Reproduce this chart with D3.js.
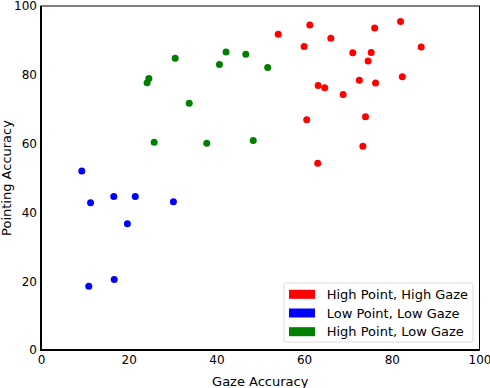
<!DOCTYPE html>
<html>
<head>
<meta charset="utf-8">
<script src="https://d3js.org/d3.v7.min.js"></script>
<style>
  body { margin: 0; background: #fff; }
  svg text { font-family: "DejaVu Sans", sans-serif; fill: #000; }
</style>
</head>
<body>
<div id="chart"></div>
<script>
var width = 490, height = 388;
var margin = {top: 6, right: 10.5, bottom: 38, left: 41};

var xTicks = [0, 20, 40, 60, 80, 100];
var yTicks = [0, 20, 40, 60, 80, 100];

var seriesNames = ["High Point, High Gaze", "Low Point, Low Gaze", "High Point, Low Gaze"];
var seriesColors = ["#ff0000", "#0000ff", "#008000"];

// High Point, High Gaze
var redX = [54.1, 61.3, 60.0, 66.1, 76.1, 82.0, 86.7, 71.1, 75.3, 74.6, 63.2, 64.7, 68.9, 72.6, 76.3, 82.4, 60.6, 74.0, 73.4, 63.1];
var redY = [91.8, 94.5, 88.2, 90.6, 93.6, 95.5, 88.1, 86.4, 86.5, 84.0, 76.9, 76.2, 74.3, 78.4, 77.6, 79.4, 66.9, 67.8, 59.2, 54.3];
// Low Point, Low Gaze
var blueX = [9.3, 11.3, 16.6, 21.5, 30.2, 19.7, 16.7, 10.9];
var blueY = [52.0, 42.8, 44.6, 44.6, 43.1, 36.7, 20.5, 18.5];
// High Point, Low Gaze
var greenX = [30.6, 24.2, 24.6, 33.8, 25.8, 37.8, 40.7, 42.2, 46.7, 51.7, 48.4];
var greenY = [84.8, 77.7, 78.9, 71.7, 60.4, 60.1, 83.0, 86.6, 86.0, 82.1, 60.9];

var groups = [
  {xs: redX, ys: redY},
  {xs: blueX, ys: blueY},
  {xs: greenX, ys: greenY}
];

var svg = d3.select("#chart").append("svg")
    .attr("width", width)
    .attr("height", height);

var x = d3.scaleLinear().domain([0, 100]).range([margin.left, width - margin.right]);
var y = d3.scaleLinear().domain([0, 100]).range([height - margin.bottom, margin.top]);

// points
groups.forEach(function(g, i) {
  var pts = g.xs.map(function(v, j) { return [v, g.ys[j]]; });
  svg.append("g").selectAll("circle")
      .data(pts)
    .enter().append("circle")
      .attr("cx", function(d) { return x(d[0]); })
      .attr("cy", function(d) { return y(d[1]); })
      .attr("r", 3.5)
      .style("fill", seriesColors[i]);
});

// frame
svg.append("rect")
    .attr("x", x(0)).attr("y", y(100))
    .attr("width", x(100) - x(0)).attr("height", y(0) - y(100))
    .style("fill", "none").style("stroke", "#000").style("stroke-width", 1);
svg.append("line")
    .attr("x1", x(0)).attr("x2", x(0)).attr("y1", y(100)).attr("y2", y(0) + 1)
    .style("stroke", "#000").style("stroke-width", 2);
svg.append("line")
    .attr("x1", x(0) - 1).attr("x2", x(100)).attr("y1", y(0)).attr("y2", y(0))
    .style("stroke", "#000").style("stroke-width", 2);

// axes (no tick marks)
var xAxis = svg.append("g")
    .attr("transform", "translate(0," + y(0) + ")")
    .call(d3.axisBottom(x).tickValues(xTicks).tickSize(0).tickPadding(5));
var yAxis = svg.append("g")
    .attr("transform", "translate(" + x(0) + ",0)")
    .call(d3.axisLeft(y).tickValues(yTicks).tickSize(0).tickPadding(4));
[xAxis, yAxis].forEach(function(a) {
  a.select(".domain").remove();
  a.selectAll("text").style("font-size", "12px").style("font-family", "DejaVu Sans");
});

svg.append("text")
    .attr("x", (x(0) + x(100)) / 2)
    .attr("y", 386)
    .attr("text-anchor", "middle")
    .style("font-size", "13px")
    .text("Gaze Accuracy");

svg.append("text")
    .attr("transform", "translate(6," + ((y(0) + y(100)) / 2) + ") rotate(-90)")
    .attr("text-anchor", "middle")
    .attr("dy", "0.35em")
    .style("font-size", "13px")
    .text("Pointing Accuracy");

// legend
var legend = svg.append("g").attr("transform", "translate(284,283)");
legend.append("rect")
    .attr("width", 189).attr("height", 59)
    .attr("rx", 2)
    .style("fill", "#fff")
    .style("stroke", "#ddd")
    .style("stroke-width", 1);
seriesNames.forEach(function(name, i) {
  var row = legend.append("g").attr("transform", "translate(0," + (11.3 + i * 18.7) + ")");
  row.append("rect")
      .attr("x", 5).attr("y", -4.5)
      .attr("width", 26).attr("height", 9)
      .style("fill", seriesColors[i]);
  row.append("text")
      .attr("x", 42.7).attr("dy", "0.35em")
      .style("font-size", "13px")
      .text(name);
});
</script>
</body>
</html>
